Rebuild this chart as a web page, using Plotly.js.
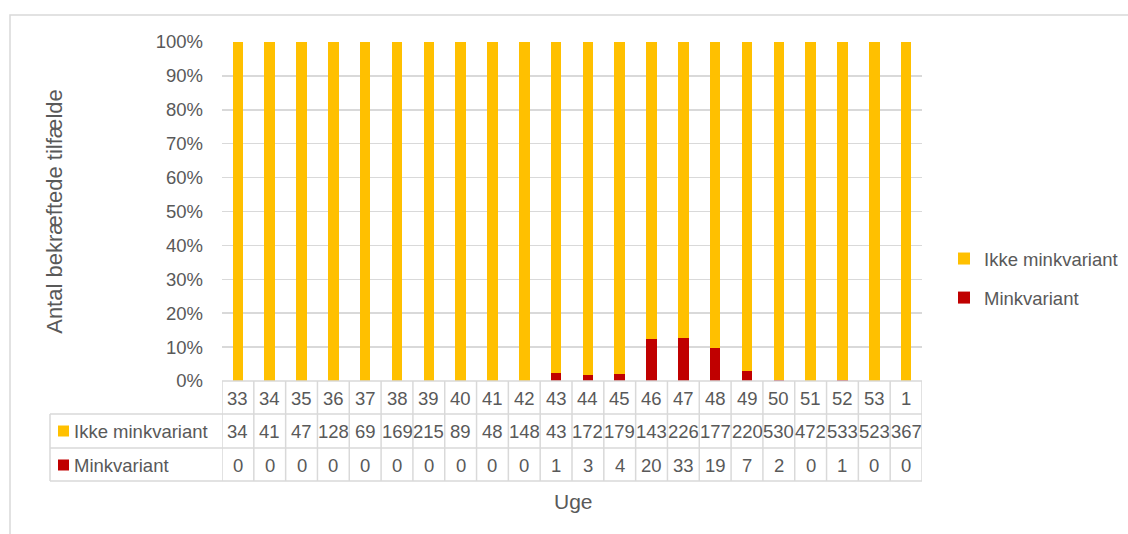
<!DOCTYPE html>
<html>
<head>
<meta charset="utf-8">
<script src="https://cdn.plot.ly/plotly-3.0.1.min.js"></script>
<style>html,body{margin:0;padding:0;background:#fff;}#chart{width:1128px;height:534px;}</style>
</head>
<body>
<div id="chart"></div>
<script>
const weeks = ['33','34','35','36','37','38','39','40','41','42','43','44','45','46','47','48','49','50','51','52','53','1'];
const ikkeMink = [34,41,47,128,69,169,215,89,48,148,43,172,179,143,226,177,220,530,472,533,523,367];
const mink = [0,0,0,0,0,0,0,0,0,0,1,3,4,20,33,19,7,2,0,1,0,0];
const seriesNames = ['Ikke minkvariant','Minkvariant'];
const yTitle = 'Antal bekræftede tilfælde';
const xTitle = 'Uge';

const YELLOW = '#FFC000', RED = '#C00000', TXT = '#595959', GRID = '#d9d9d9';
const FONT = 'Liberation Sans, Arial, sans-serif';
const FS = 18.5;

const W = 1128, H = 534, L = 222, R = 922, T = 42, B = 381;
const px = x => (x - L) / (R - L);
const py = y => (B - y) / (B - T);

const traces = [
  {type:'bar', name:seriesNames[1], x:weeks, y:mink, marker:{color:RED}, legendgroup:'b', legendrank:2, hoverinfo:'skip'},
  {type:'bar', name:seriesNames[0], x:weeks, y:ikkeMink, marker:{color:YELLOW}, legendgroup:'a', legendrank:1, hoverinfo:'skip'}
];

const shapes = [];
const annotations = [];
const lineStyle = {color:GRID, width:1.5};

// outer frame
shapes.push({type:'rect', xref:'paper', yref:'paper', x0:px(10), x1:px(1140), y0:py(15), y1:py(545), line:{color:GRID, width:1.5}, layer:'below'});

// table lines
const rowTop = py(381), r1 = py(414), r2 = py(448), r3 = py(481);
for (let i = 0; i <= weeks.length; i++) {
  shapes.push({type:'line', xref:'x', yref:'paper', x0:i-0.5, x1:i-0.5, y0:rowTop, y1:r3, line:lineStyle});
}
[rowTop, r1, r2, r3].forEach((y, k) => shapes.push({type:'line', xref:'paper', yref:'paper', x0:k === 0 ? 0 : px(50), x1:1, y0:y, y1:y, line:lineStyle}));
shapes.push({type:'line', xref:'paper', yref:'paper', x0:px(50), x1:px(50), y0:r1, y1:r3, line:lineStyle});

// legend keys in table
shapes.push({type:'rect', xref:'paper', yref:'paper', x0:px(58), x1:px(69), y0:py(425.5), y1:py(436.5), fillcolor:YELLOW, line:{width:0}});
shapes.push({type:'rect', xref:'paper', yref:'paper', x0:px(58), x1:px(69), y0:py(459.5), y1:py(470.5), fillcolor:RED, line:{width:0}});

const cellFont = {family:FONT, size:FS, color:TXT};
annotations.push({xref:'paper', yref:'paper', x:px(72), y:py(431), text:seriesNames[0], showarrow:false, xanchor:'left', yanchor:'middle', font:cellFont});
annotations.push({xref:'paper', yref:'paper', x:px(72), y:py(465), text:seriesNames[1], showarrow:false, xanchor:'left', yanchor:'middle', font:cellFont});

weeks.forEach((w, i) => {
  annotations.push({xref:'x', yref:'paper', x:i, y:py(398), text:w, showarrow:false, yanchor:'middle', font:cellFont});
  annotations.push({xref:'x', yref:'paper', x:i, y:py(431), text:String(ikkeMink[i]), showarrow:false, yanchor:'middle', font:cellFont});
  annotations.push({xref:'x', yref:'paper', x:i, y:py(465), text:String(mink[i]), showarrow:false, yanchor:'middle', font:cellFont});
});

// x axis title
annotations.push({xref:'paper', yref:'paper', x:px(573), y:py(501), text:xTitle, showarrow:false, yanchor:'middle', font:{family:FONT, size:21, color:TXT}});

const layout = {
  width:W, height:H,
  margin:{l:L, r:W-R, t:T, b:H-B, pad:0, autoexpand:false},
  paper_bgcolor:'#fff', plot_bgcolor:'#fff',
  barmode:'stack', barnorm:'fraction', bargap:0.67,
  font:{family:FONT, size:FS, color:TXT},
  showlegend:true,
  legend:{x:px(944), y:py(240), xanchor:'left', yanchor:'top', traceorder:'grouped', tracegroupgap:12, font:{family:FONT, size:FS, color:TXT}, bgcolor:'rgba(0,0,0,0)'},
  xaxis:{type:'category', categoryarray:weeks, categoryorder:'array', range:[-0.5, weeks.length - 0.5], autorange:false, automargin:false, showticklabels:false, showgrid:false, zeroline:false, showline:false, ticks:'', fixedrange:true},
  yaxis:{range:[0,1], dtick:0.1, tickformat:'.0%', automargin:false, showgrid:true, gridcolor:GRID, gridwidth:1.5, zeroline:false, showline:false, ticks:'', ticklabelstandoff:18,
         title:{text:yTitle, standoff:86, font:{family:FONT, size:22, color:TXT}}, fixedrange:true},
  shapes:shapes,
  annotations:annotations
};

Plotly.newPlot('chart', traces, layout, {displayModeBar:false, staticPlot:true});
</script>
</body>
</html>
